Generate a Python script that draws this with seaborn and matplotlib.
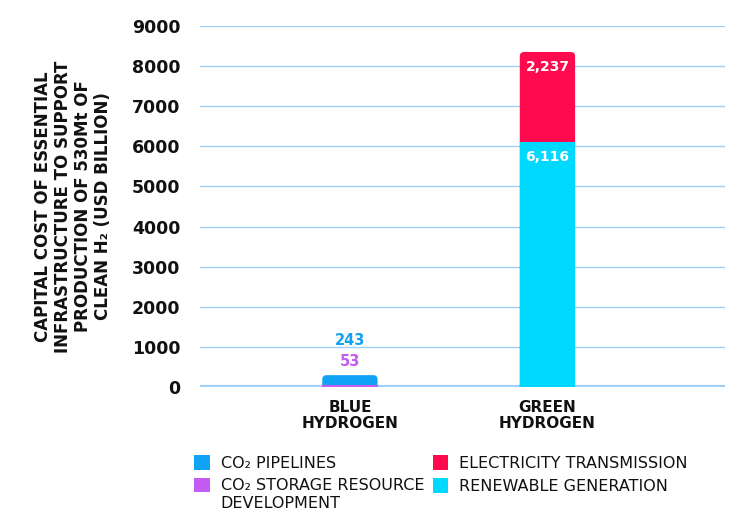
import numpy as np
import pandas as pd
import matplotlib
matplotlib.use('Agg')
import matplotlib.pyplot as plt
from matplotlib.patches import Patch, FancyBboxPatch, Rectangle
from matplotlib.legend_handler import HandlerPatch
import seaborn as sns

# data
categories = ['BLUE\nHYDROGEN', 'GREEN\nHYDROGEN']
lower_values = [53, 6116]      # CO2 storage / renewable generation
upper_values = [243, 2237]     # CO2 pipelines / electricity transmission
lower_labels = ['53', '6,116']
upper_labels = ['243', '2,237']
legend_names = ['CO\u2082 PIPELINES', 'CO\u2082 STORAGE RESOURCE\nDEVELOPMENT',
                'ELECTRICITY TRANSMISSION', 'RENEWABLE GENERATION']
y_ticks = [0, 1000, 2000, 3000, 4000, 5000, 6000, 7000, 8000, 9000]

PIPE_COLOR = '#10a2f5'
STORAGE_COLOR = '#c25cf2'
ELEC_COLOR = '#ff0a4e'
RENEW_COLOR = '#00d9ff'
GRID_COLOR = '#9fd0f7'
TEXT_COLOR = '#111111'

sns.set_style('white')
plt.rcParams['font.family'] = ['DejaVu Sans']
plt.rcParams['text.color'] = TEXT_COLOR
plt.rcParams['axes.labelcolor'] = TEXT_COLOR
plt.rcParams['xtick.color'] = TEXT_COLOR
plt.rcParams['ytick.color'] = TEXT_COLOR

df = pd.DataFrame({'cat': categories, 'lower': lower_values, 'upper': upper_values})
df['total'] = df['lower'] + df['upper']

fig = plt.figure(figsize=(7.4, 5.15), dpi=100)
ax = fig.add_axes([0.27, 0.2485, 0.71, 0.701])

# stacked bars: totals first, lower segment drawn over
sns.barplot(data=df, x='cat', y='total', hue='cat', palette=[PIPE_COLOR, ELEC_COLOR],
            width=0.28, saturation=1, linewidth=0, legend=False, ax=ax, zorder=3)
# round the top corners of the upper segments
for p in list(ax.patches):
    x0, w, h = p.get_x(), p.get_width(), p.get_height()
    fc = p.get_facecolor()
    p.remove()
    ax.add_patch(FancyBboxPatch((x0, -400), w, h + 400,
                                boxstyle='round,pad=0,rounding_size=0.022',
                                mutation_aspect=5000, facecolor=fc,
                                edgecolor='none', zorder=3))
sns.barplot(data=df, x='cat', y='lower', hue='cat', palette=[STORAGE_COLOR, RENEW_COLOR],
            width=0.28, saturation=1, linewidth=0, legend=False, ax=ax, zorder=3)

ax.set_xlim(-0.76, 1.9)
ax.set_ylim(0, 9000)
ax.set_yticks(y_ticks)
ax.set_yticklabels([str(t) for t in y_ticks], fontsize=12.5, fontweight='bold')
ax.tick_params(axis='y', length=0, pad=14)
ax.tick_params(axis='x', length=0, pad=9)
ax.set_xticks([0, 1])
ax.set_xticklabels(categories, fontsize=11, fontweight='bold', linespacing=1.15)
for t in y_ticks[1:]:
    ax.axhline(t, color=GRID_COLOR, lw=1, zorder=1)
ax.axhline(0, color=GRID_COLOR, lw=3, zorder=2)
for s in ax.spines.values():
    s.set_visible(False)
ax.set_xlabel('')
ax.set_ylabel('CAPITAL COST OF ESSENTIAL\nINFRASTRUCTURE TO SUPPORT\nPRODUCTION OF 530Mt OF\nCLEAN H\u2082 (USD BILLION)',
              fontsize=12, fontweight='bold', linespacing=1.15, labelpad=14)

# value labels
ax.annotate(lower_labels[0], (0, df['total'][0]), xytext=(0, 10), textcoords='offset points',
            ha='center', va='center', color=STORAGE_COLOR, fontsize=10.5, fontweight='bold')
ax.annotate(upper_labels[0], (0, df['total'][0]), xytext=(0, 25), textcoords='offset points',
            ha='center', va='center', color=PIPE_COLOR, fontsize=10.5, fontweight='bold')
ax.annotate(upper_labels[1], (1, df['total'][1]), xytext=(0, -11), textcoords='offset points',
            ha='center', va='center', color='white', fontsize=10, fontweight='bold', zorder=5)
ax.annotate(lower_labels[1], (1, df['lower'][1]), xytext=(0, -11), textcoords='offset points',
            ha='center', va='center', color='white', fontsize=10, fontweight='bold', zorder=5)


def first_line_patch(legend, orig_handle, xdescent, ydescent, width, height, fontsize):
    # align the swatch with the first line of a two-line label
    return Rectangle((-xdescent, -ydescent + fontsize * 0.62), width, height)


handles = [Patch(facecolor=c, edgecolor='none') for c in [PIPE_COLOR, STORAGE_COLOR, ELEC_COLOR, RENEW_COLOR]]
fig.legend(handles, legend_names, ncol=2, loc='upper left', bbox_to_anchor=(0.254, 0.128),
           frameon=False, fontsize=11.5, handlelength=0.95, handleheight=1.0,
           handletextpad=0.7, columnspacing=0.55, labelspacing=0.45, borderaxespad=0,
           handler_map={handles[1]: HandlerPatch(patch_func=first_line_patch)})

fig.savefig('out.png', dpi=100)
